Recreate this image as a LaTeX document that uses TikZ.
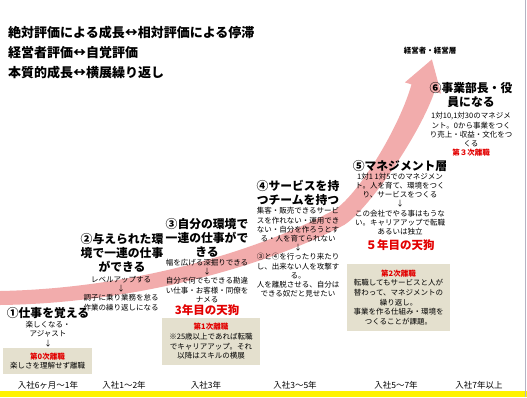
\documentclass[tikz,border=0pt]{standalone}
\usepackage{fontspec}
\setmainfont{Noto Sans CJK JP}
\usepackage{tikz}
\definecolor{bandpink}{RGB}{242,172,172}
\definecolor{boxtan}{RGB}{228,224,206}
\definecolor{alertred}{RGB}{226,0,0}
\definecolor{edgegray}{RGB}{180,180,196}
\tikzset{
  title text/.style={
    anchor=west,
    inner sep=0pt,
    font=\bfseries\fontsize{13}{15}\selectfont
  },
  stage head/.style={
    align=center,
    inner sep=0pt,
    font=\bfseries\fontsize{11.8}{14}\selectfont
  },
  stage note/.style={
    align=center,
    inner sep=0pt,
    font=\fontsize{7.5}{9.2}\selectfont
  },
  tengu/.style={
    inner sep=0pt,
    text=alertred,
    font=\bfseries\fontsize{11.5}{13}\selectfont
  },
  exit box/.style={
    fill=boxtan,
    align=center,
    inner sep=0pt,
    font=\fontsize{7.5}{9.7}\selectfont
  },
  year label/.style={
    inner sep=0pt,
    font=\fontsize{8.5}{10}\selectfont
  }
}
\newcommand{\exitname}[1]{{\color{alertred}\bfseries #1}}

\begin{document}
\begin{tikzpicture}[x=1pt, y=-1pt]
    \useasboundingbox (0,0) rectangle (527,397);

    % 成長の矢印
    \fill[bandpink] (0,291) .. controls (130,288.5) and (256,252.5) .. (335.7,209.1)
      .. controls (360.5,191.5) and (399.5,126.7) .. (411.5,84.4)
      -- (404.9,82.4) -- (431.9,59.4) -- (441.1,93.6) -- (434.5,91.6)
      .. controls (420.5,133.3) and (369.5,208.5) .. (344.3,224.9)
      .. controls (264,267.5) and (130,303.5) .. (0,305) -- cycle;

    % 左上の見出し
    \node[title text] (t1) at (8,33) {絶対評価による成長↔相対評価による停滞};
    \node[title text] (t2) at (8,53) {経営者評価↔自覚評価};
    \node[title text] (t3) at (8,73) {本質的成長↔横展繰り返し};

    \node[inner sep=0pt, font=\bfseries\fontsize{7.5}{9}\selectfont] (top) at (430,51) {経営者・経営層};

    % ①
    \node[stage head] (s1) at (48,313) {①仕事を覚える};
    \node[stage note] (n1) at (48,334) {楽しくなる・\\アジャスト\\↓};
    \node[exit box, minimum width=89pt, minimum height=26pt] (x0) at (47.5,361)
      {\exitname{第0次離職}\\楽しさを理解せず離職};

    % ②
    \node[stage head] (s2) at (122,252.5) {②与えられた環\\境で一連の仕事\\ができる};
    \node[stage note] (n2) at (121,293.5) {レベルアップする\\↓\\調子に乗り業務を怠る\\作業の繰り返しになる};

    % ③
    \node[stage head] (s3) at (207,238) {③自分の環境で\\一連の仕事がで\\きる};
    \node[stage note] (n3) at (207,281) {幅を広げる深掘りできる\\↓\\自分で何でもできる勘違\\い仕事・お客様・同僚を\\ナメる};
    \node[tengu] (g3) at (207,310) {3年目の天狗};
    \node[exit box, minimum width=98pt, minimum height=47pt] (x1) at (211,341.5)
      {\exitname{第1次離職}\\※25歳以上であれば転職\\でキャリアアップ。それ\\以降はスキルの横展};

    % ④
    \node[stage head] (s4) at (298,192.5) {④サービスを持\\つチームを持つ};
    \node[stage note] (n4) at (298,252.5) {集客・販売できるサービ\\スを作れない・運用でき\\ない・自分を作ろうとす\\る・人を育てられない\\↓\\③と④を行ったり来たり\\し、出来ない人を攻撃す\\る。\\人を離脱させる、自分は\\できる奴だと見せたい};

    % ⑤
    \node[stage head] (s5) at (400,166) {⑤マネジメント層};
    \node[stage note] (n5) at (400,204) {1対1~1対5でのマネジメン\\ト。人を育て、環境をつく\\り、サービスをつくる\\↓\\この会社でやる事はもうな\\い。キャリアアップで転職\\あるいは独立};
    \node[tengu] (g5) at (400,245) {５年目の天狗};
    \node[exit box, minimum width=103pt, minimum height=67pt] (x2) at (398.5,297.5)
      {\exitname{第2次離職}\\転職してもサービスと人が\\替わって、マネジメントの\\繰り返し。\\事業を作る仕組み・環境を\\つくることが課題。};

    % ⑥
    \node[stage head] (s6) at (471,95.5) {⑥事業部長・役\\員になる};
    \node[stage note] (n6) at (471,134.5) {1対10,1対30のマネジメ\\ント。0から事業をつく\\り売上・収益・文化をつ\\くる\\\exitname{第３次離職}};

    % 年次
    \node[year label] (y1) at (48,385) {入社6ヶ月〜1年};
    \node[year label] (y2) at (124,385) {入社1〜2年};
    \node[year label] (y3) at (206,385) {入社3年};
    \node[year label] (y4) at (295,385) {入社3〜5年};
    \node[year label] (y5) at (396,385) {入社5〜7年};
    \node[year label] (y6) at (479,385) {入社7年以上};

    \fill[yellow] (0,391) rectangle (527,397);
    \draw[edgegray, line width=1pt] (525.5,0) -- (525.5,397);

  \end{tikzpicture}
\end{document}
